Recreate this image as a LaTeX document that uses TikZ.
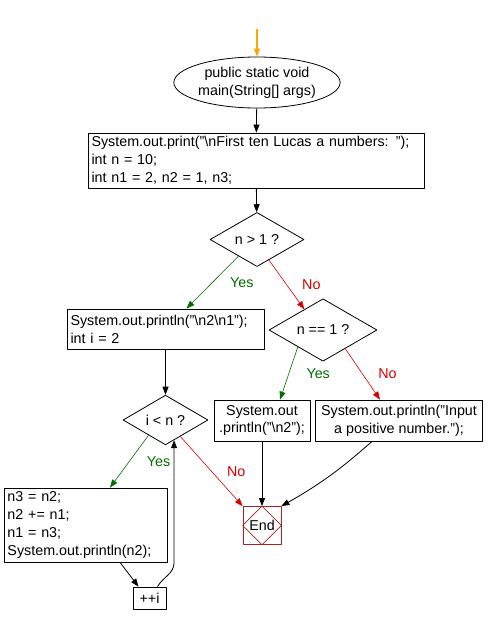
\documentclass[tikz,border=0pt]{standalone}
\usepackage{fontspec}
\setmainfont{Liberation Sans}
\usetikzlibrary{shapes.geometric,arrows.meta}
\definecolor{yesgreen}{RGB}{0,110,0}
\definecolor{nored}{RGB}{215,0,0}
\definecolor{endred}{RGB}{165,35,35}
\definecolor{startorange}{RGB}{255,165,0}
\tikzset{
  box/.style={draw, rectangle, inner ysep=0pt, inner xsep=3.5pt, align=left},
  cbox/.style={draw, rectangle, inner sep=0pt, align=center},
  decision/.style={draw, diamond, inner sep=0pt},
  yeslab/.style={midway, right=14pt, text=yesgreen},
  nolab/.style={midway, right=12pt, text=nored},
}
\begin{document}
\begin{tikzpicture}[x=1pt, y=-1pt, font=\fontsize{14.3}{17.8}\selectfont, line join=round, >={Triangle[length=8pt,width=6pt]}, line width=0.8pt]
  \useasboundingbox (0,0) rectangle (488,625);
  \coordinate (start) at (257,29);
  \node[draw, ellipse, minimum width=146pt, minimum height=51pt, inner sep=0pt, align=center] (main) at (257,82.5) {public static void\\main(String[] args)};
  \node[box, text width=329pt, minimum height=55pt] (init) at (256,160.5) {System.out.print("\textbackslash nFirst ten Lucas a numbers: ");\\int n = 10;\\int n1 = 2, n2 = 1, n3;};
  \node[decision, minimum width=94pt, minimum height=45pt] (ngt) at (257,239.5) {n > 1 ?};
  \node[box, text width=190pt, minimum height=40pt] (first) at (165.5,329) {System.out.println("\textbackslash n2\textbackslash n1");\\int i = 2};
  \node[decision, minimum width=108pt, minimum height=44pt] (neq) at (323,330) {n == 1 ?};
  \node[cbox, minimum width=96pt, minimum height=41pt] (one) at (262,420.5) {System.out\\.println("\textbackslash n2");};
  \node[cbox, minimum width=167pt, minimum height=41pt] (bad) at (399,420.5) {System.out.println("Input\\a positive number.");};
  \node[decision, minimum width=85pt, minimum height=44pt] (ilt) at (165.5,420) {i < n ?};
  \node[box, text width=156pt, minimum height=74pt] (body) at (85.5,525) {n3 = n2;\\n2 += n1;\\n1 = n3;\\System.out.println(n2);};
  \node[cbox, minimum width=33pt, minimum height=22pt] (inc) at (149.5,598) {++i};
  \node[cbox, draw=endred, minimum width=38pt, minimum height=38pt] (end) at (262,525.5) {End};
  \draw[endred, line width=0.6pt] (end.north) -- (end.east) -- (end.south) -- (end.west) -- cycle;

  \draw[->, startorange, line width=1.3pt] (start) -- (main);
  \draw[->] (main) -- (init);
  \draw[->] (init) -- (ngt);
  \draw[->, yesgreen, line width=0.6pt] (ngt.222) -- node[yeslab]{Yes} ([xshift=21pt]first.north);
  \draw[->, nored, line width=0.6pt] (ngt.-60) -- node[nolab]{No} (neq.132);
  \draw[->] (first) -- (ilt);
  \draw[->, yesgreen, line width=0.6pt] (neq.214) -- node[yeslab]{Yes} ([xshift=18pt]one.north);
  \draw[->, nored, line width=0.6pt] (neq.-40) -- node[nolab]{No} ([xshift=-19pt]bad.north);
  \draw[->] (one) -- (end);
  \draw[->] ([xshift=-27pt]bad.south) to[bend left=6] (end.north east);
  \draw[->, yesgreen, line width=0.6pt] (ilt.222) -- node[yeslab]{Yes} ([xshift=24.5pt]body.north);
  \draw[->, nored, line width=0.6pt] (ilt.-48) -- node[nolab]{No} (end.north west);
  \draw[->] ([xshift=34.5pt]body.south) -- ([xshift=-11pt]inc.north);
  \draw[->] ([xshift=8pt]inc.north) to[out=60,in=-90] (ilt.-67.5 |- body.south) -- (ilt.-67.5);
\end{tikzpicture}
\end{document}
